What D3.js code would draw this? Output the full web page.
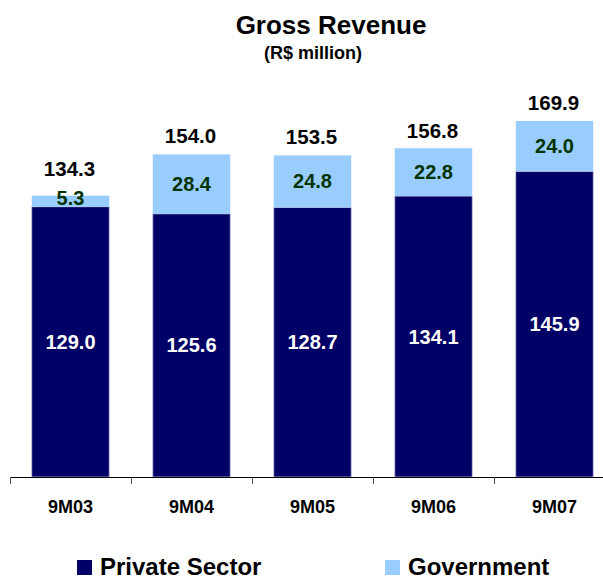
<!DOCTYPE html>
<html>
<head>
<meta charset="utf-8">
<script src="https://cdn.jsdelivr.net/npm/d3@7"></script>
<style>
  html, body { margin: 0; padding: 0; background: #fff; }
  svg { display: block; font-family: "Liberation Sans", Arial, sans-serif; font-weight: bold; }
</style>
</head>
<body>
<svg id="chart" width="603" height="576"></svg>
<script>
// Gross revenue by period, split by customer segment (R$ million)
const periods = ["9M03", "9M04", "9M05", "9M06", "9M07"];
const privateSector = [129.0, 125.6, 128.7, 134.1, 145.9];
const government = [5.3, 28.4, 24.8, 22.8, 24.0];
const totals = [134.3, 154.0, 153.5, 156.8, 169.9];
const seriesNames = ["Private Sector", "Government"];

const colors = { private: "#000066", government: "#99CCFF", govText: "#003300" };

const svg = d3.select("#chart");

const x = d3.scaleBand()
  .domain(periods)
  .range([10, 615])
  .paddingInner(0.36)
  .paddingOuter(0.18);

const y = d3.scaleLinear()
  .domain([0, 200])
  .range([477, 58]);

// Title
svg.append("text")
  .attr("x", 331).attr("y", 34)
  .attr("text-anchor", "middle")
  .attr("font-size", 26)
  .attr("fill", "#000")
  .text("Gross Revenue");

svg.append("text")
  .attr("x", 313).attr("y", 59)
  .attr("text-anchor", "middle")
  .attr("font-size", 18)
  .attr("fill", "#000")
  .text("(R$ million)");

const rows = periods.map((p, i) => ({
  period: p,
  priv: privateSector[i],
  gov: government[i],
  total: totals[i]
}));

const g = svg.append("g");

// Private sector segment (bottom)
g.selectAll("rect.priv")
  .data(rows)
  .join("rect")
  .attr("class", "priv")
  .attr("x", d => x(d.period))
  .attr("width", x.bandwidth())
  .attr("y", d => y(d.priv))
  .attr("height", d => y(0) - y(d.priv))
  .attr("fill", colors.private)
  .attr("stroke", "#c4c4e0")
  .attr("stroke-width", 0.8);

// Government segment (stacked on top)
g.selectAll("rect.gov")
  .data(rows)
  .join("rect")
  .attr("class", "gov")
  .attr("x", d => x(d.period))
  .attr("width", x.bandwidth())
  .attr("y", d => y(d.priv + d.gov))
  .attr("height", d => y(d.priv) - y(d.priv + d.gov))
  .attr("fill", colors.government);

// Axis line with ticks between categories
const axisY = y(0);
svg.append("line")
  .attr("x1", 10).attr("x2", 603)
  .attr("y1", axisY + 0.5).attr("y2", axisY + 0.5)
  .attr("stroke", "#000").attr("stroke-width", 1);

const boundaries = periods.map(p => x(p) - x.step() * x.paddingInner() / 2);
boundaries[0] = x.range()[0];
svg.selectAll("line.tick")
  .data(boundaries)
  .join("line")
  .attr("class", "tick")
  .attr("x1", d => Math.round(d) + 0.5).attr("x2", d => Math.round(d) + 0.5)
  .attr("y1", axisY).attr("y2", axisY + 7)
  .attr("stroke", "#555").attr("stroke-width", 1);

// Category labels
svg.selectAll("text.cat")
  .data(periods)
  .join("text")
  .attr("class", "cat")
  .attr("x", d => x(d) + x.bandwidth() / 2)
  .attr("y", 513)
  .attr("text-anchor", "middle")
  .attr("font-size", 18)
  .attr("fill", "#000")
  .text(d => d);

const cx = d => x(d.period) + x.bandwidth() / 2;

// Private sector values
g.selectAll("text.privLabel")
  .data(rows)
  .join("text")
  .attr("class", "privLabel")
  .attr("x", cx)
  .attr("y", d => (y(0) + y(d.priv)) / 2 + 7)
  .attr("text-anchor", "middle")
  .attr("font-size", 20)
  .attr("fill", "#fff")
  .text(d => d.priv.toFixed(1));

// Government values
const govCenter = d => (y(d.priv) + y(d.priv + d.gov)) / 2 - (d.gov < 10 ? 4 : 1);
g.selectAll("text.govLabel")
  .data(rows)
  .join("text")
  .attr("class", "govLabel")
  .attr("x", cx)
  .attr("y", d => govCenter(d) + 7.5)
  .attr("text-anchor", "middle")
  .attr("font-size", 20)
  .attr("fill", colors.govText)
  .text(d => d.gov.toFixed(1));

// Totals above each bar
g.selectAll("text.totLabel")
  .data(rows)
  .join("text")
  .attr("class", "totLabel")
  .attr("x", d => cx(d) - 1)
  .attr("y", d => Math.min(y(d.total) - 11, govCenter(d) - 21))
  .attr("text-anchor", "middle")
  .attr("font-size", 20.5)
  .attr("fill", "#000")
  .text(d => d.total.toFixed(1));

// Legend
const legendX = [77, 385];
const legendFill = [colors.private, colors.government];
const lg = svg.selectAll("g.legend")
  .data(seriesNames)
  .join("g")
  .attr("class", "legend")
  .attr("transform", (d, i) => `translate(${legendX[i]},560)`);
lg.append("rect")
  .attr("width", 15).attr("height", 15)
  .attr("fill", (d, i) => legendFill[i]);
lg.append("text")
  .attr("x", 23).attr("y", 14.5)
  .attr("font-size", 24)
  .attr("fill", "#000")
  .text(d => d);
</script>
</body>
</html>
